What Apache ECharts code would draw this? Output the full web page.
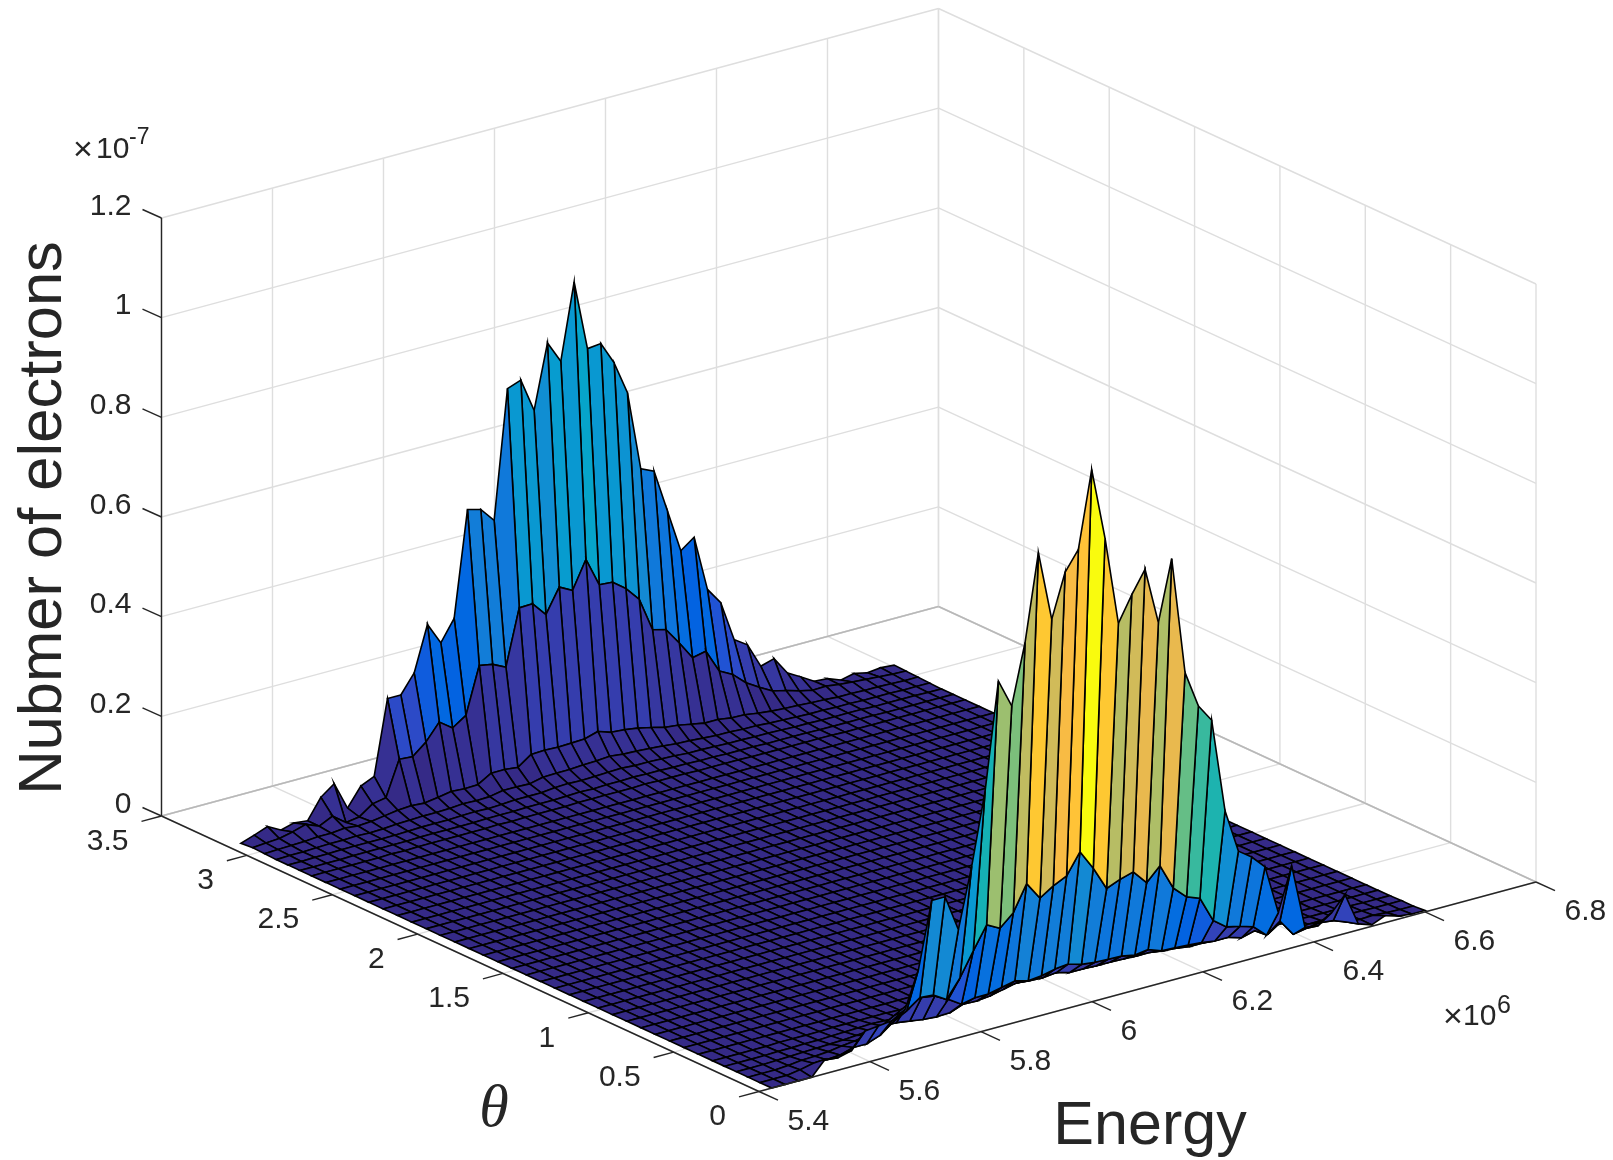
<!DOCTYPE html>
<html>
<head>
<meta charset="utf-8">
<style>html,body{margin:0;padding:0;background:#fff}#c{width:1613px;height:1160px}</style>
<script src="https://cdn.jsdelivr.net/npm/echarts@6/dist/echarts.min.js"></script>
</head>
<body>
<div id="c"></div>
<script>
// ---------- tick values ----------
const energyTicks = [5.4,5.6,5.8,6.0,6.2,6.4,6.6,6.8];
const energyLabels = ['5.4','5.6','5.8','6','6.2','6.4','6.6','6.8'];
const thetaTicks = [0,0.5,1,1.5,2,2.5,3,3.5];
const thetaLabels = ['0','0.5','1','1.5','2','2.5','3','3.5'];
const zTicks = [0,0.2,0.4,0.6,0.8,1,1.2];
const zLabels = ['0','0.2','0.4','0.6','0.8','1','1.2'];

// theta position of each surface row
const thetaGrid = [0,.069,.138,.207,.276,.346,.43,.514,.598,.682,.765,.849,.933,1.017,1.101,1.185,1.269,1.353,1.437,1.521,1.605,1.688,1.772,1.856,1.94,2.024,2.108,2.192,2.276,2.36,2.443,2.527,2.611,2.695,2.764,2.833,2.902,2.971,3.041,3.11];

// ---------- surface values (units of 1e-7), 50 energy columns per theta row ----------
const row0 = [0,0,0,0,.029,.025,.032,.064,.067,.07,.086,.158,.29,.29,.217,.337,.48,.694,.637,.757,.93,.789,.876,.915,1.068,.923,.745,.795,.839,.725,.846,.61,.536,.5,.311,.223,.204,.177,.078,.165,.034,.03,.049,.078,.012,.003,.014,.006,.003,.003];
const row1 = [0,0,0,.004,.01,.01,.012,.02,.02,.03,.05,.065,.084,.082,.066,.102,.149,.194,.18,.204,.255,.219,.236,.249,.29,.25,.202,.213,.221,.192,.219,.167,.142,.132,.08,.06,.054,.046,.022,.043,.009,.014,.018,.015,.005,.003,.004,.002,.001,.001];
const row2 = [0,0,0,.002,.005,.006,.008,.012,.015,.02,.03,.045,.06,.066,.062,.048,.031,.037,.037,.043,.049,.042,.045,.051,.054,.046,.043,.042,.041,.036,.04,.03,.029,.027,.025,.021,.021,.013,.02,.006,.024,0,.004,.004,.002,.002,.002,.001,.001,.001];
const row3 = [0,0,0,.001,.002,.003,.004,.005,.006,.008,.01,.012,.012,.008,.004,.002,.003,.013,.012,.015,.021,.027,.024,.023,.026,.019,.019,.018,.018,.017,.016,.016,.012,.01,.006,.006,.005,.005,.004,.003,.003,.002,.002,.001,.001,.001,.001,0,0,0];
const row4 = [0,0,0,0,.001,.001,.002,.002,.003,.004,.005,.006,.005,.004,.002,.001,.002,.005,.005,.006,.008,.01,.009,.009,.01,.008,.008,.007,.007,.007,.006,.006,.005,.004,.003,.003,.002,.002,.002,.001,.001,.001,.001,0,0,0,0,0,0,0];
const row5 = [0,0,0,0,0,.001,.001,.001,.001,.002,.002,.002,.002,.002,.001,.001,.001,.002,.002,.002,.003,.004,.003,.003,.004,.003,.003,.003,.003,.003,.002,.002,.002,.002,.001,.001,.001,.001,.001,0,0,0,0,0,0,0,0,0,0,0];
const flatRow = [0,0,0,0,0,0,0,0,0,0,0,0,0,0,0,0,0,0,0,0,0,0,0,0,0,0,0,0,0,0,0,0,0,0,0,0,0,0,0,0,0,0,0,0,0,0,0,0,0,0];
const rowB6 = [0,0,0,0,0,0,.001,0,.001,.001,.001,.001,.001,.001,.002,.001,.002,.002,.002,.002,.003,.003,.003,.003,.003,.004,.003,.003,.003,.002,.002,.002,.002,.001,.001,.001,.001,.001,.001,.001,0,0,0,0,0,0,0,0,0,0];
const rowB5 = [0,0,0,0,.001,.001,.001,.001,.001,.002,.002,.002,.002,.002,.003,.003,.003,.004,.004,.004,.005,.006,.005,.006,.006,.007,.006,.006,.005,.005,.004,.004,.003,.003,.003,.002,.002,.002,.002,.001,.001,.001,.001,.001,0,0,0,0,0,0];
const rowB4 = [0,0,.001,.001,.002,.002,.002,.002,.002,.003,.004,.004,.004,.005,.006,.005,.006,.008,.008,.008,.011,.012,.011,.012,.013,.014,.012,.012,.011,.01,.008,.008,.007,.006,.006,.005,.005,.004,.003,.003,.002,.002,.002,.002,.001,.001,.001,.001,0,0];
const rowB3 = [0,.001,.001,.002,.003,.003,.004,.003,.004,.006,.007,.008,.008,.009,.011,.01,.011,.016,.016,.015,.021,.022,.022,.024,.025,.027,.024,.023,.021,.019,.016,.015,.013,.011,.011,.009,.009,.007,.006,.005,.004,.004,.003,.003,.002,.002,.002,.001,.001,.001];
const rowB2 = [.001,.002,.003,.004,.006,.006,.009,.006,.008,.012,.016,.018,.016,.02,.025,.023,.024,.04,.04,.037,.056,.057,.056,.057,.058,.066,.057,.055,.051,.045,.038,.035,.03,.025,.025,.021,.02,.016,.013,.011,.01,.008,.007,.005,.005,.004,.004,.003,.002,.002];
const rowB1 = [.002,.004,.006,.012,.02,.009,.022,.002,.006,.025,.03,.1,.098,.12,.153,.134,.152,.245,.24,.227,.339,.34,.311,.359,.345,.4,.342,.34,.32,.291,.223,.216,.182,.145,.151,.104,.09,.066,.05,.035,.029,.021,.015,.016,.012,.01,.008,.006,.004,.003];
const rowB0 = [0,.009,.019,.005,.012,.009,.049,.069,.013,.05,.062,.211,.211,.248,.338,.294,.336,.547,.54,.511,.768,.778,.71,.838,.794,.946,.805,.808,.762,.695,.535,.523,.436,.349,.369,.257,.223,.142,.124,.074,.082,.046,.031,.015,.013,.003,.009,.003,.006,.004];

const surfaceRows = [row0,row1,row2,row3,row4,row5,
  flatRow,flatRow,flatRow,flatRow,flatRow,flatRow,flatRow,flatRow,flatRow,
  flatRow,flatRow,flatRow,flatRow,flatRow,flatRow,flatRow,flatRow,flatRow,
  flatRow,flatRow,flatRow,flatRow,flatRow,flatRow,flatRow,flatRow,flatRow,
  rowB6,rowB5,rowB4,rowB3,rowB2,rowB1,rowB0];

const energyStart = 5.423, energyEnd = 6.6;
const colorMax = 1.068;

// parula colormap
const parula = [[.2081,.1663,.5292],[.2116,.1898,.5777],[.2123,.2138,.627],[.2081,.2386,.6771],[.1959,.2645,.7279],[.1707,.2919,.7792],[.1253,.3242,.8303],[.0591,.3598,.8683],[.0117,.3875,.882],[.006,.4086,.8828],[.0165,.4266,.8786],[.0329,.443,.872],[.0498,.4586,.8641],[.0629,.4737,.8554],[.0723,.4887,.8467],[.0779,.504,.8384],[.0793,.52,.8312],[.0749,.5375,.8263],[.0641,.557,.824],[.0488,.5772,.8228],[.0343,.5966,.8199],[.0265,.6137,.8135],[.0239,.6287,.8038],[.0231,.6418,.7913],[.0228,.6535,.7768],[.0267,.6642,.7607],[.0384,.6743,.7436],[.059,.6838,.7254],[.0843,.6928,.7062],[.1133,.7015,.6859],[.1453,.7098,.6646],[.1801,.7177,.6424],[.2178,.725,.6193],[.2586,.7317,.5954],[.3022,.7376,.5712],[.3482,.7424,.5473],[.3953,.7459,.5244],[.442,.7481,.5033],[.4871,.7491,.484],[.53,.7491,.4661],[.5709,.7485,.4494],[.6099,.7473,.4337],[.6473,.7456,.4188],[.6834,.7435,.4044],[.7184,.7411,.3905],[.7525,.7384,.3768],[.7858,.7356,.3633],[.8185,.7327,.3498],[.8507,.7299,.336],[.8824,.7274,.3217],[.9139,.7258,.3063],[.945,.7261,.2886],[.9739,.7314,.2666],[.9938,.7455,.2403],[.999,.7653,.2164],[.9955,.7861,.1967],[.988,.8066,.1794],[.9789,.8271,.1633],[.9697,.8481,.1475],[.9626,.8705,.1309],[.9589,.8949,.1132],[.9598,.9218,.0948],[.9661,.9514,.0755],[.9763,.9831,.0538]];
function colorOf(v){
  const c = parula[Math.min(63, Math.floor(v / colorMax * 64))];
  return 'rgb(' + c.map(x => Math.round(x * 255)).join(',') + ')';
}

// orthographic view of the 3D box: (energy, theta, z) -> plane coordinates
const view = {ox:759, oy:1091.5, ex:777, ey:-209.5, tx:-597.5, ty:-275.5, zy:-598};
const eMin = 5.4, eSpan = 1.4, tSpan = 3.5, zSpan = 1.2, eMax = 6.8, tMax = 3.5, zMax = 1.2;
function project(E, t, z){
  const a = (E - eMin) / eSpan, b = t / tSpan, c = z / zSpan;
  return [view.ox + a * view.ex + b * view.tx, view.oy + a * view.ey + b * view.ty + c * view.zy];
}
const nRows = surfaceRows.length, nCols = row0.length;
const colE = j => energyStart + (energyEnd - energyStart) * j / (nCols - 1);

// facets, painted back to front
const facets = [];
for (let i = nRows - 2; i >= 0; i--) for (let j = nCols - 2; j >= 0; j--) facets.push([i, j]);

// grid segments on the walls and floor: [E1,t1,z1,E2,t2,z2]
const wallLines = [];
energyTicks.forEach(E => { wallLines.push([E,tMax,0,E,tMax,zMax]); wallLines.push([E,0,0,E,tMax,0]); });
thetaTicks.forEach(t => { wallLines.push([eMax,t,0,eMax,t,zMax]); wallLines.push([eMin,t,0,eMax,t,0]); });
zTicks.forEach(z => { wallLines.push([eMin,tMax,z,eMax,tMax,z]); wallLines.push([eMax,tMax,z,eMax,0,z]); });
const boxLines = [[eMin,tMax,0,eMax,tMax,0],[eMax,tMax,0,eMax,0,0]];
const axisLines = [[eMin,0,0,eMax,0,0],[eMin,0,0,eMin,tMax,0],[eMin,tMax,0,eMin,tMax,zMax]];

const tickDark = '#262626';
const font = '"Liberation Sans", Arial, sans-serif';

function segmentSeries(data, color, width, z){
  return {
    type:'custom', coordinateSystem:'cartesian2d', silent:true, animation:false, progressive:0, z:z, clip:false,
    data:data,
    renderItem:(p, api) => {
      const a = api.coord(project(api.value(0), api.value(1), api.value(2)));
      const b = api.coord(project(api.value(3), api.value(4), api.value(5)));
      return {type:'line', shape:{x1:a[0],y1:a[1],x2:b[0],y2:b[1]}, style:{stroke:color, lineWidth:width}};
    }
  };
}
function tickSeries(vals, toPoint, dx, dy){
  return {
    type:'custom', coordinateSystem:'cartesian2d', silent:true, animation:false, progressive:0, z:5, clip:false,
    data:vals.map(v => [v]),
    renderItem:(p, api) => {
      const a = api.coord(toPoint(api.value(0)));
      return {type:'line', shape:{x1:a[0],y1:a[1],x2:a[0]+dx,y2:a[1]+dy}, style:{stroke:tickDark, lineWidth:1.4}};
    }
  };
}
function labelSeries(vals, labels, toPoint, dx, dy, align){
  return {
    type:'custom', coordinateSystem:'cartesian2d', silent:true, animation:false, progressive:0, z:6, clip:false,
    data:vals.map(v => [v]),
    renderItem:(p, api) => {
      const a = api.coord(toPoint(api.value(0)));
      return {type:'text', x:a[0]+dx, y:a[1]+dy,
        style:{text:labels[p.dataIndex], fontSize:30, fontFamily:font, fill:tickDark, align:align, verticalAlign:'middle'}};
    }
  };
}
const surfaceSeries = {
  type:'custom', coordinateSystem:'cartesian2d', silent:true, animation:false, progressive:0, z:3, clip:false,
  data:facets,
  renderItem:(p, api) => {
    const i = api.value(0), j = api.value(1);
    const corner = (r, c) => api.coord(project(colE(c), thetaGrid[r], surfaceRows[r][c]));
    return {type:'polygon',
      shape:{points:[corner(i,j),corner(i,j+1),corner(i+1,j+1),corner(i+1,j)]},
      style:{fill:colorOf(surfaceRows[i][j]), stroke:'#000', lineWidth:1.6}};
  }
};
const eOnAxis = E => project(E,0,0), tOnAxis = t => project(eMin,t,0), zOnAxis = z => project(eMin,tMax,z);

const chart = echarts.init(document.getElementById('c'), null, {width:1613, height:1160});
chart.setOption({
  animation:false, backgroundColor:'#fff', tooltip:{show:false},
  grid:{left:0,right:0,top:0,bottom:0},
  xAxis:{type:'value',min:0,max:1613,show:false},
  yAxis:{type:'value',min:0,max:1160,inverse:true,show:false},
  series:[
    segmentSeries(wallLines,'#dedede',1.4,1),
    segmentSeries(boxLines,'#b8b8b8',1.6,2),
    surfaceSeries,
    segmentSeries(axisLines,tickDark,1.4,4),
    tickSeries(energyTicks,eOnAxis,19,8.7),
    tickSeries(thetaTicks,tOnAxis,-20,5.4),
    tickSeries(zTicks,zOnAxis,-19,-8.5),
    labelSeries(energyTicks,energyLabels,eOnAxis,28.5,30,'left'),
    labelSeries(thetaTicks,thetaLabels,tOnAxis,-33,25.5,'right'),
    labelSeries(zTicks,zLabels,zOnAxis,-30,-11.5,'right')
  ],
  graphic:[
    {type:'text',x:44,y:518,rotation:Math.PI/2,style:{text:'Nubmer of electrons',fontSize:61.5,fontFamily:font,fill:tickDark,align:'center',verticalAlign:'middle'}},
    {type:'text',x:1150,y:1127,style:{text:'Energy',fontSize:61,fontFamily:font,fill:tickDark,align:'center',verticalAlign:'middle'}},
    {type:'text',x:494,y:1110,style:{text:'θ',fontSize:60,fontFamily:'"Liberation Serif", serif',fontStyle:'italic',fill:tickDark,align:'center',verticalAlign:'middle'}},
    {type:'text',x:83,y:151,style:{text:'×',fontSize:34,fontFamily:font,fill:tickDark,align:'center',verticalAlign:'middle'}},
    {type:'text',x:96,y:150,style:{text:'10',fontSize:30,fontFamily:font,fill:tickDark,align:'left',verticalAlign:'middle'}},
    {type:'text',x:129,y:138,style:{text:'-7',fontSize:23,fontFamily:font,fill:tickDark,align:'left',verticalAlign:'middle'}},
    {type:'text',x:1453,y:1018,style:{text:'×',fontSize:34,fontFamily:font,fill:tickDark,align:'center',verticalAlign:'middle'}},
    {type:'text',x:1463,y:1017,style:{text:'10',fontSize:30,fontFamily:font,fill:tickDark,align:'left',verticalAlign:'middle'}},
    {type:'text',x:1497,y:1006,style:{text:'6',fontSize:25,fontFamily:font,fill:tickDark,align:'left',verticalAlign:'middle'}}
  ]
});
</script>
</body>
</html>
